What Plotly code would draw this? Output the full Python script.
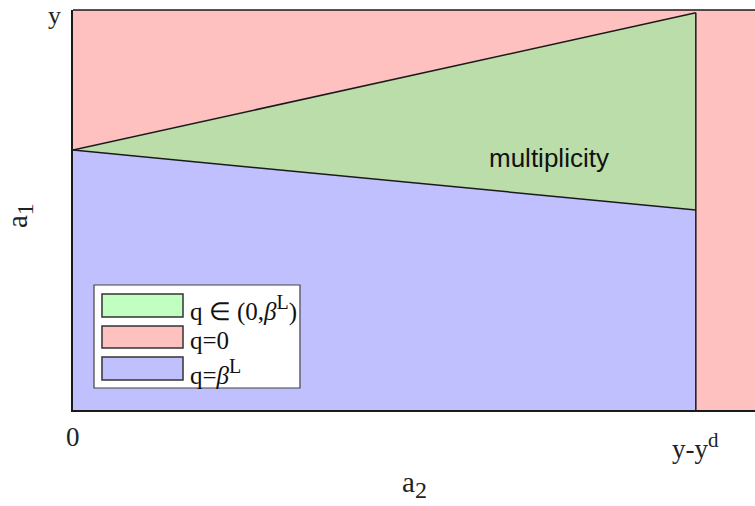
import plotly.graph_objects as go

# Region boundaries in the (a2, a1) plane
x_bound = [0.0, 0.8]          # a2 = 0 and a2 = y - y^d
upper_a1 = [0.65, 0.993]      # upper edge of the multiplicity wedge
lower_a1 = [0.65, 0.50]       # lower edge of the multiplicity wedge
x_max = 0.876
y_max = 1.0

# Tick labels
x_tickvals = [0.0, 0.8]
x_ticktext = ["0", "y-y<sup><span style='font-size:21px'>d</span></sup>"]
x_tick_pos = [-0.0675, -0.09]         # vertical placement of each label (paper units)
y_tickvals = [1.0]
y_ticktext = ["y"]

# Legend entries
legend_labels = [
    "q \u2208 (0,<i>\u03b2</i><sup><span style='font-size:20px'>L</span></sup>)",
    "q=0",
    "q=<i>\u03b2</i><sup><span style='font-size:20px'>L</span></sup>",
]
legend_colors = ["#C0FFC0", "#FFC0C0", "#C0C0FF"]

PINK = "#FFC0C0"
BLUE = "#C0C0FF"
GREEN = "#BBDDAA"
EDGE = "#1a1a1a"
SERIF = "Liberation Serif"
TXT = "#222222"

fig = go.Figure()

# q = 0 above the upper edge
fig.add_trace(go.Scatter(
    x=[x_bound[0], x_bound[1], x_bound[1], x_bound[0]],
    y=[upper_a1[0], upper_a1[1], y_max, y_max],
    fill="toself", fillcolor=PINK, line=dict(width=0), mode="lines",
    hoverinfo="skip", showlegend=False))

# q = 0 beyond a2 = y - y^d
fig.add_trace(go.Scatter(
    x=[x_bound[1], x_max, x_max, x_bound[1]],
    y=[0, 0, y_max, y_max],
    fill="toself", fillcolor=PINK, line=dict(width=0), mode="lines",
    hoverinfo="skip", showlegend=False))

# q = beta^L below the lower edge
fig.add_trace(go.Scatter(
    x=[x_bound[0], x_bound[1], x_bound[1], x_bound[0]],
    y=[0, 0, lower_a1[1], lower_a1[0]],
    fill="toself", fillcolor=BLUE, line=dict(width=0), mode="lines",
    hoverinfo="skip", showlegend=False))

# multiplicity wedge
fig.add_trace(go.Scatter(
    x=[x_bound[0], x_bound[1], x_bound[1]],
    y=[upper_a1[0], upper_a1[1], lower_a1[1]],
    fill="toself", fillcolor=GREEN, line=dict(width=0), mode="lines",
    hoverinfo="skip", showlegend=False))

# boundary lines
fig.add_trace(go.Scatter(x=x_bound, y=upper_a1, mode="lines",
                         line=dict(color=EDGE, width=1.5), hoverinfo="skip", showlegend=False))
fig.add_trace(go.Scatter(x=x_bound, y=lower_a1, mode="lines",
                         line=dict(color=EDGE, width=1.5), hoverinfo="skip", showlegend=False))
fig.add_trace(go.Scatter(x=[x_bound[1], x_bound[1]], y=[0, upper_a1[1]], mode="lines",
                         line=dict(color=EDGE, width=1.5), hoverinfo="skip", showlegend=False))

fig.add_annotation(x=0.6114, y=0.63, text="multiplicity", showarrow=False,
                   font=dict(family="Liberation Sans", size=26, color="#111111"))

# top frame line
fig.add_shape(type="line", xref="paper", yref="paper", x0=0, x1=1, y0=1, y1=1,
              line=dict(color=EDGE, width=1.5))

# legend box
fig.add_shape(type="rect", xref="paper", yref="paper",
              x0=0.0308, x1=0.3328, y0=0.055, y1=0.3125,
              fillcolor="white", line=dict(color="#444444", width=1.2))
swatch_rows = [(0.2325, 0.29), (0.155, 0.21), (0.075, 0.1325)]
for (y0, y1), col, lab in zip(swatch_rows, legend_colors, legend_labels):
    fig.add_shape(type="rect", xref="paper", yref="paper",
                  x0=0.0425, x1=0.1613, y0=y0, y1=y1,
                  fillcolor=col, line=dict(color="#333333", width=1.5))
    fig.add_annotation(xref="paper", yref="paper", x=0.168, y=(y0 + y1) / 2 - 0.008,
                       xanchor="left", yanchor="middle", text=lab, showarrow=False,
                       font=dict(family=SERIF, size=25, color="#111111"))

# axis tick labels placed at the axis tick values
for xv, txt, yp in zip(x_tickvals, x_ticktext, x_tick_pos):
    fig.add_annotation(x=xv, xref="x", y=yp, yref="paper", text=txt, showarrow=False,
                       xanchor="center", yanchor="middle",
                       font=dict(family=SERIF, size=27, color=TXT))
for yv, txt in zip(y_tickvals, y_ticktext):
    fig.add_annotation(x=-0.016, xref="paper", y=yv / y_max + 0.025, yref="paper", text=txt,
                       showarrow=False, xanchor="right", yanchor="top", borderpad=0,
                       font=dict(family=SERIF, size=26, color=TXT))

# axis titles
fig.add_annotation(x=0.5, xref="paper", y=-0.185, yref="paper",
                   text="a<sub><span style='font-size:24px'>2</span></sub>",
                   showarrow=False, xanchor="center", yanchor="middle",
                   font=dict(family=SERIF, size=29, color=TXT))
fig.add_annotation(x=-0.079, xref="paper", y=0.485, yref="paper",
                   text="a<sub><span style='font-size:24px'>1</span></sub>",
                   showarrow=False, textangle=-90, xanchor="center", yanchor="middle",
                   font=dict(family=SERIF, size=29, color=TXT))

fig.update_layout(
    width=755, height=506,
    margin=dict(l=73, r=0, t=10, b=96),
    paper_bgcolor="white", plot_bgcolor="white",
    xaxis=dict(range=[0, x_max], tickvals=x_tickvals, showticklabels=False,
               showgrid=False, zeroline=False, showline=True, linecolor=EDGE, linewidth=1.5,
               ticks=""),
    yaxis=dict(range=[0, y_max], tickvals=y_tickvals, showticklabels=False,
               showgrid=False, zeroline=False, showline=True, linecolor=EDGE, linewidth=1.5,
               ticks=""),
)

fig.write_html("out.html")
